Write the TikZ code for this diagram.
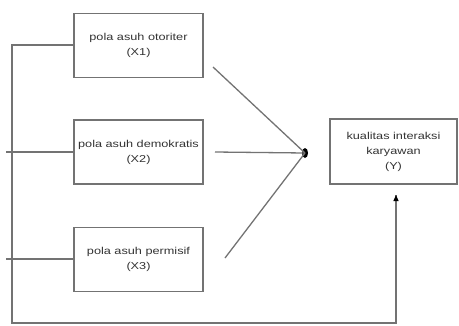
\documentclass[tikz,border=0pt]{standalone}
\usepackage{fontspec}
\setmainfont{Liberation Sans}[FakeStretch=1.27]
\usetikzlibrary{arrows.meta,shapes.geometric}
\begin{document}
\begin{tikzpicture}[x=1pt,y=1pt,
  ln/.style={draw=black!55, line width=1.3pt},
  varbox/.style={ln, minimum width=129pt, minimum height=64pt, inner sep=0pt,
    align=center, text=black!80, font=\fontsize{10}{15}\selectfont},
  ybox/.style={varbox, minimum width=127pt, minimum height=65pt}]
\useasboundingbox (0,0) rectangle (459,-325);
\node[varbox] (x1) at (138.5,-45.5) {pola asuh otoriter\\(X1)};
\node[varbox] (x2) at (138.5,-152) {pola asuh demokratis\\(X2)};
\node[varbox] (x3) at (138.5,-259.5) {pola asuh permisif\\(X3)};
\node[ybox] (y) at (393.5,-151.5) {kualitas interaksi\\karyawan\\(Y)};
\node[fill=black, ellipse, minimum width=6pt, minimum height=10pt, inner sep=0pt] (dot) at (305,-153) {};
\coordinate (a1) at (213,-67);
\coordinate (a2) at (215,-152);
\coordinate (a3) at (225,-258);
\draw[ln] (a1) -- (dot.center);
\draw[ln] (a2) -- (dot.center);
\draw[ln] (a3) -- (dot.center);
\coordinate (top) at (12,-45);
\coordinate (bot) at (12,-323);
\coordinate (l2) at (6,-152);
\coordinate (l3) at (6,-259);
\coordinate (corner) at (396,-323);
\coordinate (tip) at (396,-195);
\draw[ln] (x1.west |- top) -- (top) -- (bot) -- (corner) -- (tip);
\draw[ln] (l2) -- (x2.west |- l2);
\draw[ln] (l3) -- (x3.west |- l3);
\draw[ln, -{Triangle[length=6pt,width=5pt,fill=black,color=black]}] (corner) -- (tip);
\end{tikzpicture}
\end{document}
